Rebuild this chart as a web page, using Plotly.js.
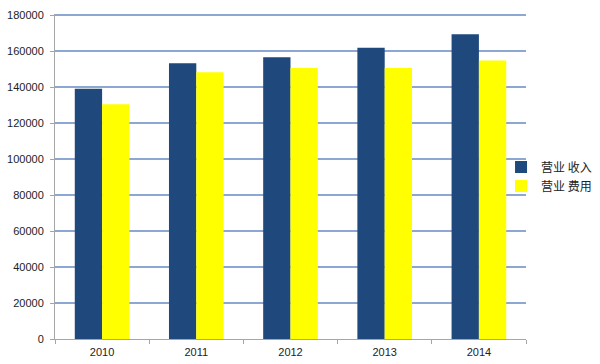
<!DOCTYPE html>
<html><head><meta charset="utf-8">
<script src="https://cdn.plot.ly/plotly-3.0.1.min.js"></script>
<style>body{margin:0;background:#fff}#c{width:600px;height:364px}</style>
</head><body><div id="c"></div>
<script>
const years = ['2010','2011','2012','2013','2014'];
const revenue = [139000, 153200, 156500, 161900, 169400];
const expense = [130500, 148300, 150600, 150600, 154800];
const seriesNames = ['营业 收入', '营业 费用'];

const traces = [
  {type:'bar', name: seriesNames[0], x: years, y: revenue, marker:{color:'#1F487C'}},
  {type:'bar', name: seriesNames[1], x: years, y: expense, marker:{color:'#FFFF00'}}
];
const layout = {
  width:600, height:364,
  margin:{l:55, r:74, t:14, b:25, autoexpand:false},
  paper_bgcolor:'#fff', plot_bgcolor:'#fff',
  barmode:'group', bargap:0.42, bargroupgap:0,
  font:{family:'"Liberation Sans", Arial, sans-serif', size:11, color:'#222'},
  xaxis:{type:'category', showgrid:false, showline:true, linecolor:'#A6A6A6', linewidth:1,
         ticks:'outside', tickson:'boundaries', ticklen:4, tickcolor:'#A6A6A6',
         tickfont:{size:11, color:'#222'}, zeroline:false, ticklabelstandoff:3},
  yaxis:{range:[0,180600], dtick:20000, showgrid:true, gridcolor:'#8CA8D2', gridwidth:1.3,
         showline:true, linecolor:'#A6A6A6', linewidth:1, ticks:'outside', ticklen:4,
         tickcolor:'#8CA8D2', tickfont:{size:11, color:'#222'}, zeroline:false,
         tickformat:'d', ticklabelstandoff:4},
  legend:{x:0.947, xanchor:'left', y:0.5, yanchor:'middle',
          font:{family:'"Noto Sans CJK SC", sans-serif', size:12, color:'#222'},
          itemwidth:30, tracegroupgap:0, traceorder:'normal', bgcolor:'rgba(0,0,0,0)'},
  showlegend:true
};
Plotly.newPlot('c', traces, layout, {displayModeBar:false, staticPlot:true});
</script></body></html>
